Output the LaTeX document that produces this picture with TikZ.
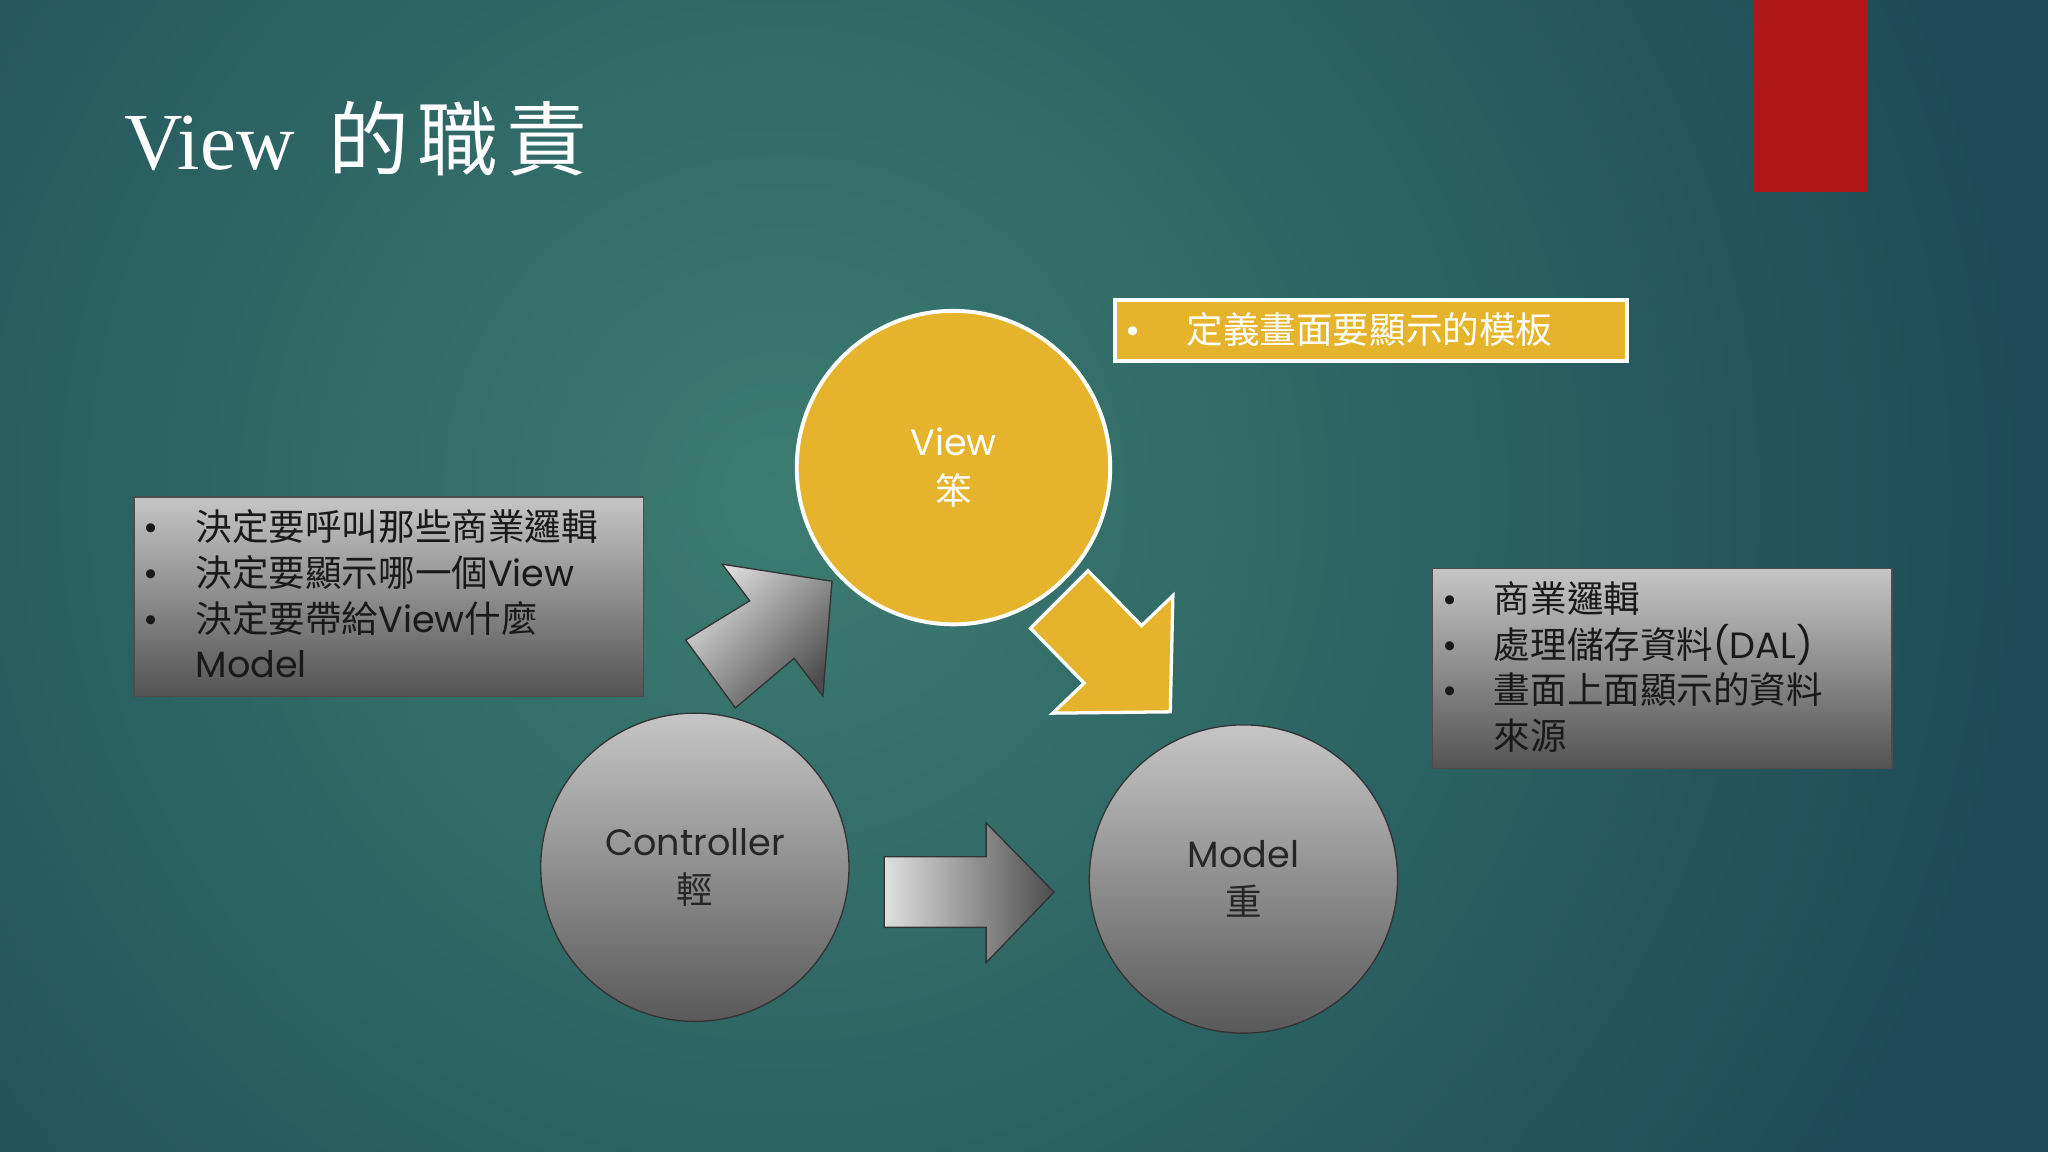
\documentclass[tikz,border=0pt]{standalone}
\usepackage{fontspec}
\setmainfont{Poppins}
\newfontfamily\cjk{Noto Sans CJK TC}
\newfontfamily\titlefont{Liberation Serif}
\usetikzlibrary{shadings}
\definecolor{bgout}{HTML}{1E4B57}
\definecolor{bgin}{HTML}{3C7C70}
\definecolor{gold}{HTML}{E6B42C}
\definecolor{redbar}{HTML}{B01616}
\tikzset{
  body/.style={font=\fontsize{28}{35}\selectfont},
  graybox/.style={top color=gray!45, bottom color=gray!20!black!75, draw=black!70, line width=1pt},
  graycirc/.style={top color=gray!45, bottom color=black!65, draw=black!80, line width=1pt},
}
\begin{document}
\begin{tikzpicture}[x=1pt,y=-1pt]
\fill[bgout] (0,0) rectangle (1568,882);
\begin{scope}
\clip (0,0) rectangle (1568,882);
\shade[inner color=bgin, outer color=bgout] (600,380) circle (950);
\end{scope}
\useasboundingbox (0,0) rectangle (1568,882);
\fill[redbar] (1343,0) rectangle (1430,147);
\node[anchor=base west, text=white, inner sep=0] (title) at (95,130)
  {\fontsize{62}{70}\selectfont\titlefont View\hspace{26pt}{\cjk 的\hspace{6pt}職\hspace{6pt}責}};
% circles
\node[circle, minimum size=240pt, fill=gold, draw=white, line width=3pt, body, text=white, align=center] (view) at (730,358) {View\\[2pt]{\cjk 笨}};
\node[circle, minimum size=236pt, graycirc, body, text=black!85, align=center] (ctrl) at (532,664) {Controller\\[2pt]{\cjk 輕}};
\node[circle, minimum size=236pt, graycirc, body, text=black!85, align=center] (model) at (952,673) {Model\\[2pt]{\cjk 重}};
% yellow label
\node[draw=white, line width=3pt, fill=gold, minimum width=392pt, minimum height=47pt, anchor=north west, inner sep=0pt] (vlabel) at (852,228) {};
\node[anchor=west, text=white, body] (vtext) at (858,252) {\textbullet\quad\ {\cjk 定義畫面要顯示的模板}};
% left box
\node[graybox, minimum width=390pt, minimum height=153pt, anchor=north west] (cbox) at (102,380) {};
\node[anchor=north west, body, align=left, text=black!90, inner sep=0pt] (ctext) at (110,390) {%
\textbullet\quad{\cjk 決定要呼叫那些商業邏輯}\\
\textbullet\quad{\cjk 決定要顯示哪一個}View\\
\textbullet\quad{\cjk 決定要帶給}View{\cjk 什麼}\\
\phantom{\textbullet\quad}Model};
% right box
\node[graybox, minimum width=352pt, minimum height=153pt, anchor=north west] (mbox) at (1096,435) {};
\node[anchor=north west, body, align=left, text=black!90, inner sep=0pt] (mtext) at (1104,445) {%
\textbullet\quad{\cjk 商業邏輯}\\
\textbullet\quad{\cjk 處理儲存資料}(DAL)\\
\textbullet\quad{\cjk 畫面上面顯示的資料}\\
\phantom{\textbullet\quad}{\cjk 來源}};
% arrows
\coordinate (a1) at (525,490);
\shade[left color=gray!25, right color=black!70, shading angle=45, draw=black!80, line width=1pt]
 (a1) -- (574,460) -- (553,432) -- (637,445) -- (630,533) -- (608,504) -- (563,542) -- cycle;
\fill[gold, draw=white, line width=2.5pt]
 (789,481) -- (833,437) -- (874,479) -- (898,456) -- (896,545) -- (806,546) -- (830,523) -- cycle;
\shade[left color=gray!25, right color=black!70, draw=black!80, line width=1pt]
 (677,656) -- (755,656) -- (755,630) -- (807,683) -- (755,737) -- (755,710) -- (677,710) -- cycle;
\end{tikzpicture}
\end{document}
